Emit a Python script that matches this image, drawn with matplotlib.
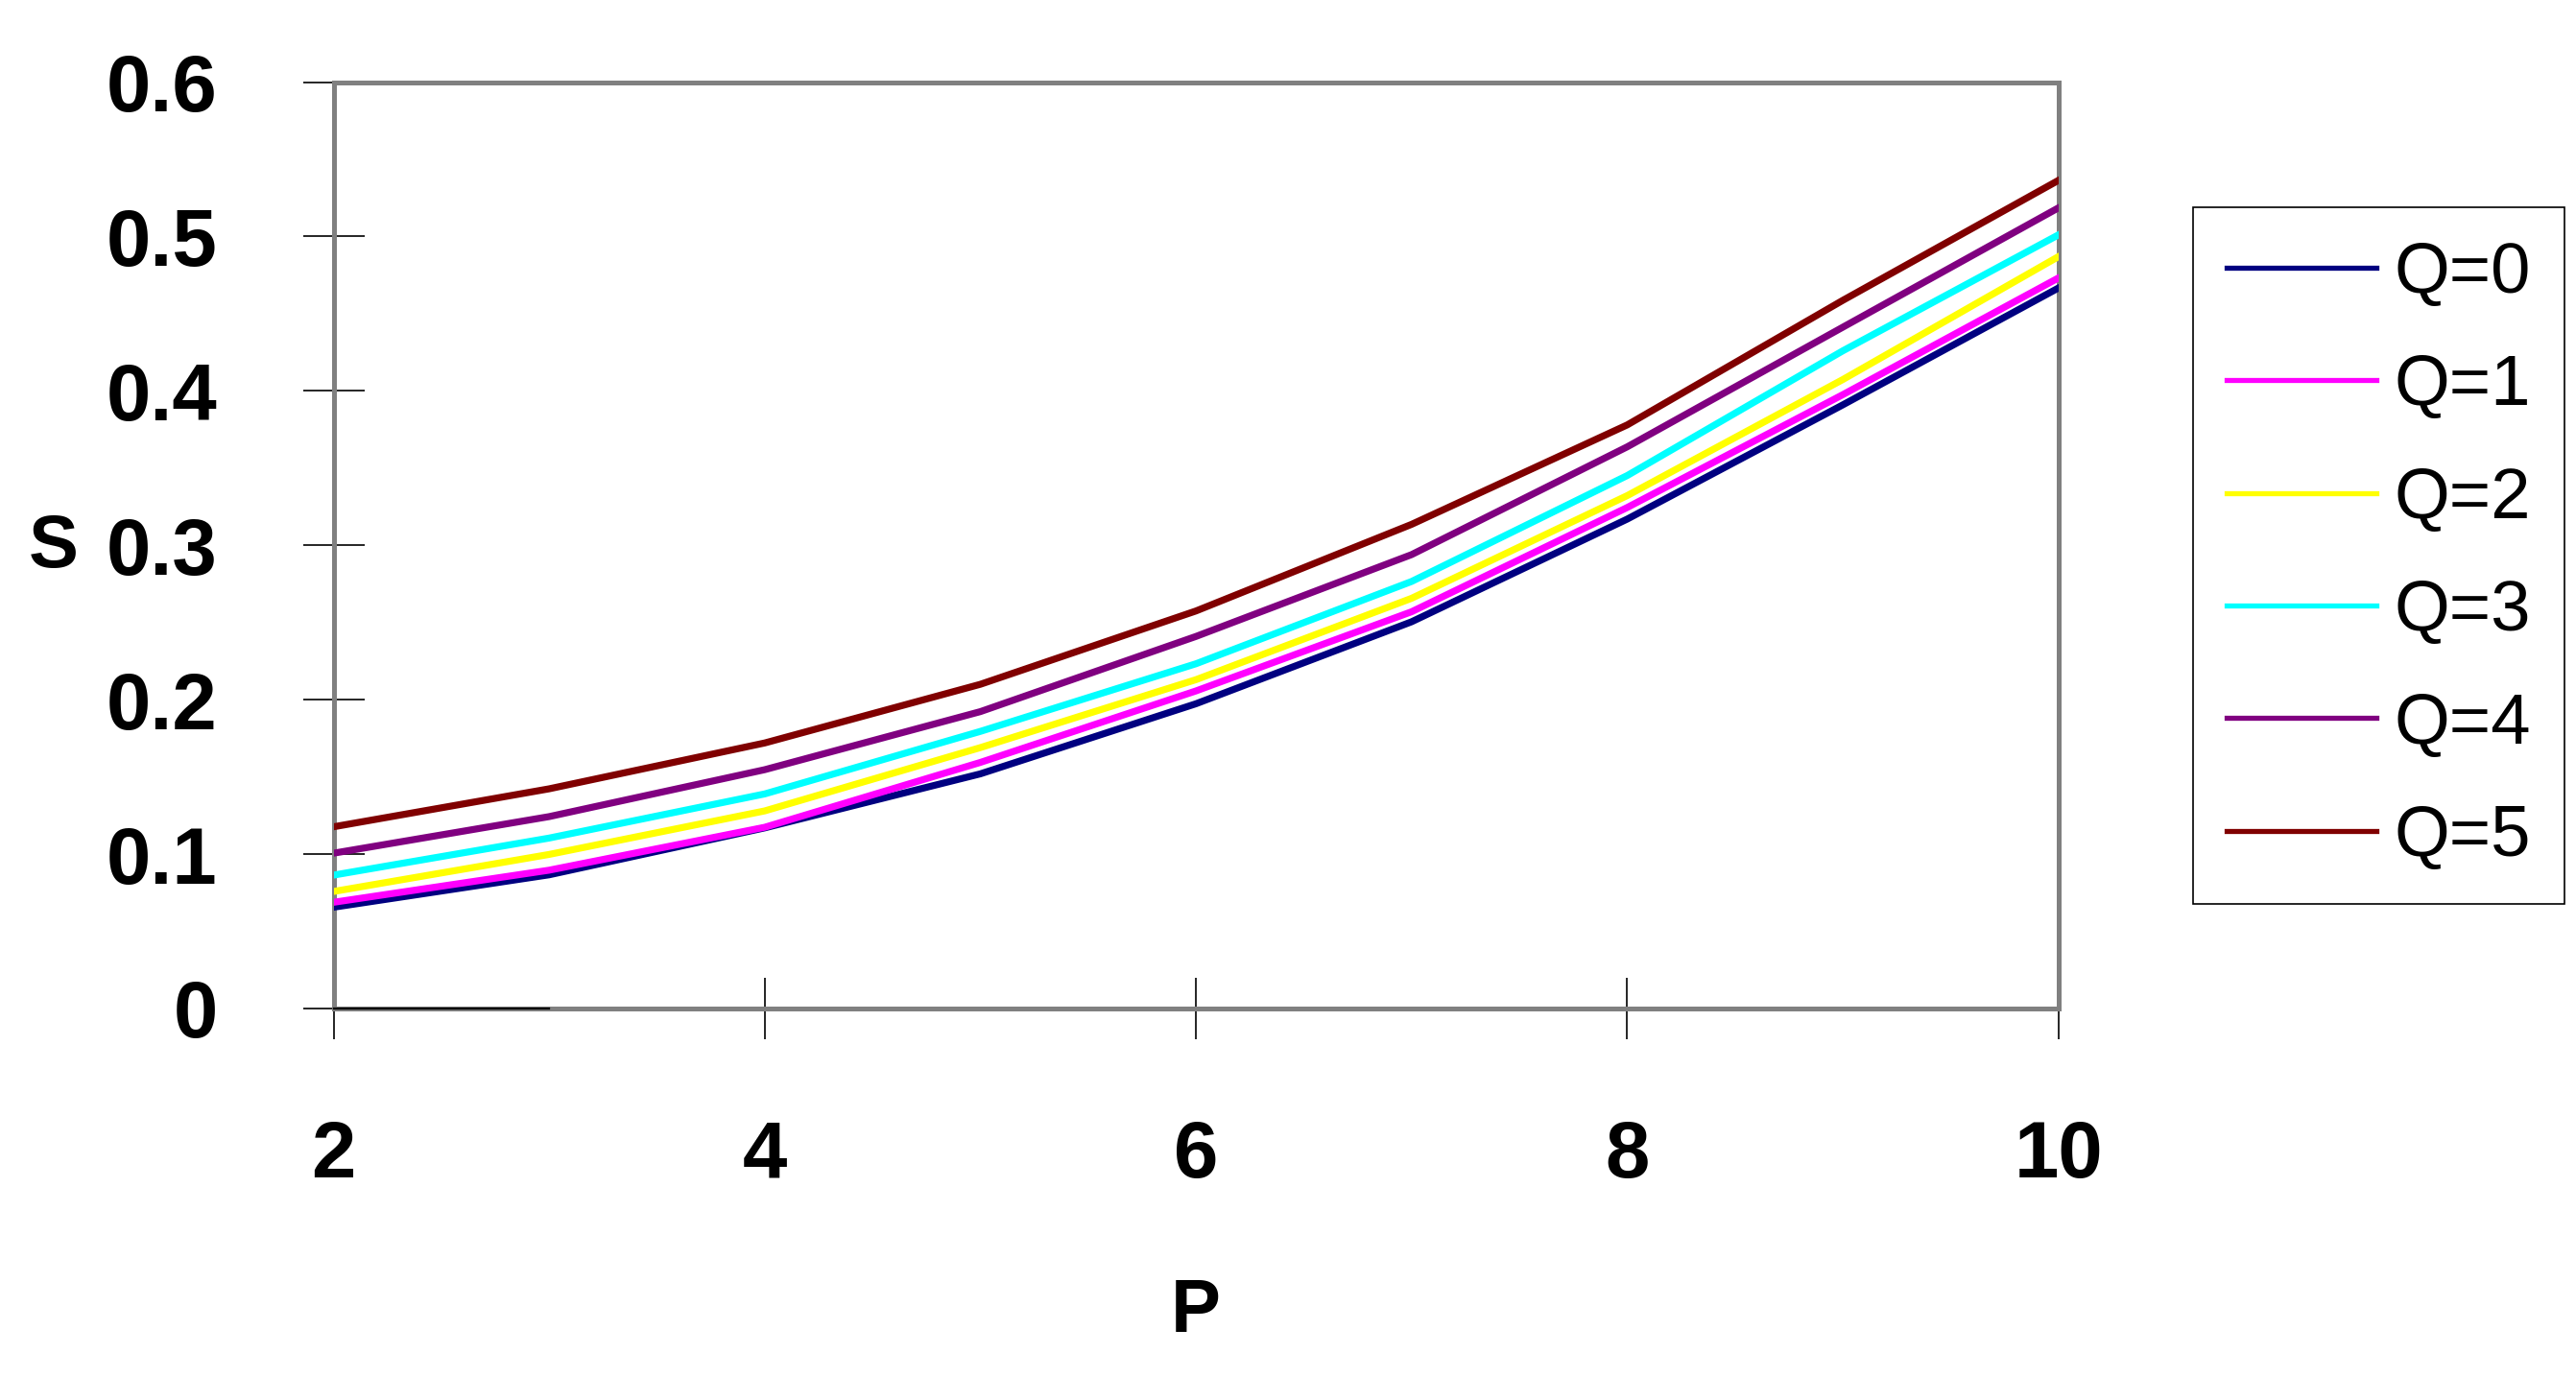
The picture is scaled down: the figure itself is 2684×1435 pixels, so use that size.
import matplotlib
matplotlib.use("Agg")
import matplotlib.pyplot as plt
import matplotlib.ticker as tkr

plt.rcParams['font.family'] = ['Liberation Sans', 'DejaVu Sans']

# values
P = [2, 3, 4, 5, 6, 7, 8, 9, 10]
S_q0 = [0.0656, 0.0866, 0.1170, 0.1520, 0.1974, 0.2505, 0.3170, 0.3910, 0.4667]
S_q1 = [0.0688, 0.0896, 0.1174, 0.1594, 0.2057, 0.2570, 0.3245, 0.3976, 0.4732]
S_q2 = [0.0758, 0.0998, 0.1280, 0.1690, 0.2130, 0.2657, 0.3322, 0.4074, 0.4870]
S_q3 = [0.0864, 0.1104, 0.1390, 0.1795, 0.2233, 0.2766, 0.3452, 0.4260, 0.5011]
S_q4 = [0.1006, 0.1243, 0.1547, 0.1923, 0.2410, 0.2940, 0.3638, 0.4413, 0.5186]
S_q5 = [0.1177, 0.1423, 0.1720, 0.2100, 0.2575, 0.3136, 0.3780, 0.4587, 0.5364]
labels = ["Q=0", "Q=1", "Q=2", "Q=3", "Q=4", "Q=5"]

# short black stub along the axis seen in the original
stub_P = [2, 3]
stub_S = [0, 0]

x_ticks = [2, 4, 6, 8, 10]
y_ticks = [0, 0.1, 0.2, 0.3, 0.4, 0.5, 0.6]
y_tick_labels = ["0", "0.1", "0.2", "0.3", "0.4", "0.5", "0.6"]

colors = [
    "#000080",
    "#ff00ff",
    "#ffff00",
    "#00ffff",
    "#800080",
    "#800000",
]

W, H = 2684, 1435
fig = plt.figure(figsize=(W / 200, H / 200), dpi=200)
ax = fig.add_axes([347.5 / W, 1 - 1051 / H, (2144.8 - 347.5) / W, (1051 - 85.6) / H])

series = [S_q0, S_q1, S_q2, S_q3, S_q4, S_q5]
for s, c, lab in zip(series, colors, labels):
    ax.plot(P, s, color=c, linewidth=2.6, label=lab, solid_joinstyle='miter', zorder=3)

ax.plot(stub_P, stub_S, color='black', linewidth=0.8, zorder=4, clip_on=False)

ax.set_xlim(2, 10)
ax.set_ylim(0, 0.6)
ax.set_xticks(x_ticks)
ax.set_yticks(y_ticks)
ax.yaxis.set_major_formatter(tkr.FixedFormatter(y_tick_labels))

for sp in ax.spines.values():
    sp.set_color('#808080')
    sp.set_linewidth(1.8)

ax.tick_params(axis='both', direction='inout', length=23, width=0.6,
               color='black', labelsize=30)
ax.tick_params(axis='y', pad=32)
ax.tick_params(axis='x', pad=30)
for t in ax.get_xticklabels() + ax.get_yticklabels():
    t.set_fontweight('bold')

fig.text(56 / W, 1 - 570 / H, 'S', fontsize=28, fontweight='bold',
         ha='center', va='center')
fig.text(1246 / W, 1 - 1367 / H, 'P', fontsize=28, fontweight='bold',
         ha='center', va='center')

leg = ax.legend(loc='upper left', bbox_to_anchor=(2285 / W, 1 - 216 / H),
                bbox_transform=fig.transFigure, borderaxespad=0,
                fontsize=26.8, handlelength=2.1, handletextpad=0.24,
                labelspacing=0.65, borderpad=0.47, fancybox=False,
                edgecolor='black', framealpha=1)
leg.get_frame().set_linewidth(0.6)
for ln in leg.get_lines():
    ln.set_linewidth(1.9)

fig.savefig('out.png', dpi=200, facecolor='white')
